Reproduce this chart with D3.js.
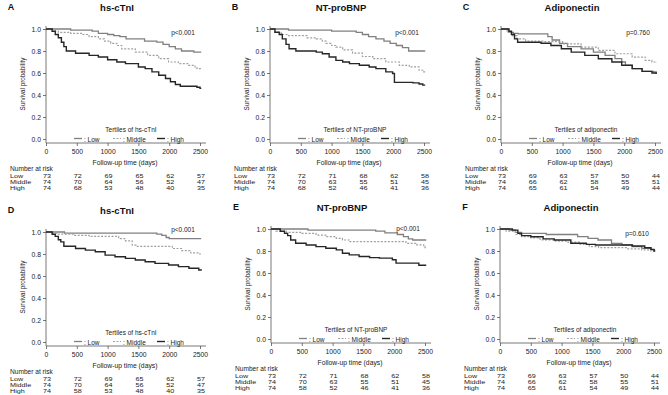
<!DOCTYPE html>
<html><head><meta charset="utf-8">
<script src="https://cdn.jsdelivr.net/npm/d3@7"></script>
<style>
html,body{margin:0;padding:0;background:#fff;}
svg{display:block;font-family:"Liberation Sans",Arial,Helvetica,sans-serif;}
</style></head>
<body>
<script>
// ---------- data (time in days, survival probability) ----------
const xTicks = [0, 500, 1000, 1500, 2000, 2500];
const yTicks = [0, 0.2, 0.4, 0.6, 0.8, 1.0];
const groups = ["Low", "Middle", "High"];

const A_low  = [[0,1],[400,0.99],[750,0.98],[850,0.96],[1000,0.95],[1100,0.94],[1200,0.93],[1300,0.91],[1600,0.89],[1800,0.88],[1900,0.86],[2000,0.84],[2100,0.82],[2200,0.80],[2400,0.79],[2520,0.79]];
const A_mid  = [[0,1],[100,0.98],[200,0.97],[400,0.96],[600,0.95],[700,0.93],[850,0.91],[950,0.89],[1050,0.87],[1150,0.85],[1230,0.82],[1450,0.79],[1650,0.76],[1830,0.73],[1990,0.70],[2150,0.685],[2300,0.67],[2420,0.645],[2480,0.64],[2520,0.64]];
const A_high = [[0,1],[100,0.98],[150,0.95],[200,0.92],[250,0.88],[290,0.84],[330,0.80],[480,0.78],[700,0.76],[850,0.745],[1000,0.72],[1150,0.70],[1290,0.685],[1500,0.655],[1610,0.64],[1720,0.61],[1830,0.58],[1940,0.55],[2020,0.52],[2100,0.495],[2180,0.48],[2450,0.47],[2500,0.46],[2520,0.46]];

const B_low  = [[0,1],[300,0.99],[1000,0.98],[1400,0.97],[1500,0.95],[1600,0.93],[1720,0.91],[1850,0.89],[1950,0.87],[2050,0.85],[2150,0.83],[2250,0.80],[2520,0.80]];
const B_mid  = [[0,1],[80,0.97],[180,0.95],[300,0.94],[600,0.92],[750,0.91],[850,0.89],[910,0.87],[1000,0.85],[1070,0.835],[1180,0.81],[1340,0.78],[1500,0.75],[1670,0.73],[1880,0.70],[2100,0.67],[2260,0.655],[2420,0.625],[2480,0.61],[2520,0.60]];
const B_high = [[0,1],[80,0.97],[150,0.95],[200,0.91],[260,0.86],[310,0.82],[420,0.80],[750,0.79],[850,0.775],[960,0.745],[1070,0.715],[1180,0.70],[1290,0.685],[1450,0.67],[1610,0.655],[1720,0.64],[1880,0.61],[1990,0.595],[2020,0.515],[2320,0.51],[2420,0.50],[2480,0.49],[2520,0.49]];

const C_low  = [[0,1],[120,0.97],[200,0.96],[280,0.955],[760,0.93],[830,0.90],[950,0.87],[1080,0.84],[1300,0.82],[1500,0.79],[1690,0.76],[1850,0.73],[1960,0.70],[2020,0.67],[2130,0.64],[2290,0.615],[2480,0.61],[2520,0.60]];
const C_mid  = [[0,1],[100,0.97],[170,0.94],[260,0.91],[400,0.89],[700,0.885],[1000,0.865],[1300,0.835],[1580,0.805],[1850,0.775],[2130,0.745],[2340,0.715],[2450,0.70],[2520,0.69]];
const C_high = [[0,1],[130,0.98],[170,0.95],[220,0.91],[270,0.88],[650,0.87],[810,0.85],[980,0.82],[1140,0.79],[1360,0.76],[1580,0.73],[1800,0.70],[1960,0.67],[2130,0.64],[2290,0.615],[2450,0.60],[2520,0.59]];

const D_low  = [[0,1],[300,0.99],[1800,0.98],[1880,0.97],[1950,0.95],[2000,0.94],[2520,0.94]];
const D_mid  = [[0,1],[100,0.99],[200,0.98],[450,0.97],[700,0.96],[1180,0.94],[1290,0.92],[1400,0.88],[1460,0.87],[2050,0.85],[2200,0.83],[2350,0.81],[2480,0.80],[2520,0.80]];
const D_high = [[0,1],[100,0.98],[150,0.96],[200,0.93],[240,0.91],[290,0.87],[480,0.85],[640,0.835],[800,0.82],[960,0.79],[1120,0.775],[1290,0.76],[1450,0.745],[1610,0.73],[1770,0.715],[1990,0.70],[2150,0.685],[2320,0.67],[2480,0.655],[2520,0.65]];

const E_low  = [[0,1],[600,0.99],[1700,0.98],[1850,0.965],[2050,0.95],[2150,0.93],[2230,0.91],[2300,0.90],[2520,0.90]];
const E_mid  = [[0,1],[80,0.98],[250,0.97],[500,0.96],[730,0.945],[890,0.93],[1060,0.915],[1160,0.90],[1270,0.885],[2190,0.87],[2350,0.855],[2480,0.84],[2500,0.83],[2520,0.83]];
const E_high = [[0,1],[150,0.98],[220,0.96],[270,0.94],[320,0.90],[400,0.87],[570,0.855],[730,0.84],[890,0.825],[1060,0.81],[1160,0.78],[1270,0.765],[1430,0.75],[1600,0.74],[1760,0.735],[1970,0.72],[2030,0.69],[2400,0.67],[2520,0.67]];

const F_low  = [[0,1],[150,0.99],[250,0.97],[350,0.96],[750,0.95],[1260,0.93],[1430,0.915],[1590,0.90],[1810,0.87],[1980,0.855],[2140,0.84],[2300,0.825],[2450,0.81],[2520,0.81]];
const F_mid  = [[0,1],[100,0.98],[250,0.95],[350,0.93],[500,0.92],[650,0.90],[900,0.89],[1100,0.88],[1300,0.86],[1450,0.84],[1600,0.83],[2050,0.82],[2300,0.81],[2450,0.80],[2520,0.80]];
const F_high = [[0,1],[200,0.99],[290,0.96],[350,0.94],[500,0.93],[700,0.91],[880,0.90],[1150,0.87],[1400,0.86],[1550,0.855],[2150,0.845],[2350,0.83],[2450,0.815],[2500,0.80],[2520,0.80]];

// numbers at risk (rows: Low, Middle, High)
const riskA = [[73,72,69,65,62,57],[74,70,64,56,52,47],[74,68,53,48,40,35]];
const riskB = [[73,72,71,68,62,58],[74,70,63,55,51,45],[74,68,52,46,41,36]];
const riskC = [[73,69,63,57,50,44],[74,66,62,58,55,51],[74,65,61,54,49,44]];
const riskD = [[73,72,69,65,62,57],[74,70,64,56,52,47],[74,58,53,48,40,35]];
const riskE = [[73,72,71,68,62,58],[74,70,63,55,51,45],[74,58,52,46,41,36]];
const riskF = [[73,69,63,57,50,44],[74,66,62,58,55,51],[74,65,61,54,49,44]];

const panels = [
  {id:"A", title:"hs-cTnI",     legend:"Tertiles of hs-cTnI",     p:"p<0.001", dx:0,   dy:0,   py:32, curves:[A_low,A_mid,A_high], risk:riskA},
  {id:"B", title:"NT-proBNP",   legend:"Tertiles of NT-proBNP",   p:"p<0.001", dx:224, dy:0,   py:32, curves:[B_low,B_mid,B_high], risk:riskB},
  {id:"C", title:"Adiponectin", legend:"Tertiles of adiponectin", p:"p=0.760", dx:455, dy:0,   py:32, curves:[C_low,C_mid,C_high], risk:riskC},
  {id:"D", title:"hs-cTnI",     legend:"Tertiles of hs-cTnI",     p:"p<0.001", dx:0,   dy:203, py:26, curves:[D_low,D_mid,D_high], risk:riskD},
  {id:"E", title:"NT-proBNP",   legend:"Tertiles of NT-proBNP",   p:"p<0.001", dx:225, dy:200, py:28, curves:[E_low,E_mid,E_high], risk:riskE},
  {id:"F", title:"Adiponectin", legend:"Tertiles of adiponectin", p:"p=0.610", dx:454, dy:200, py:33, curves:[F_low,F_mid,F_high], risk:riskF}
];

// ---------- styles ----------
const lineStyle = [
  {stroke:"#808080", width:1.3, dash:null},
  {stroke:"#a0a0a0", width:1.2, dash:"2,1.5"},
  {stroke:"#262626", width:1.4, dash:null}
];
const axisColor = "#555";
const textColor = "#222";

const W = 668, H = 395;
const svg = d3.select("body").append("svg").attr("width", W).attr("height", H);

const X0 = 46;      // y-axis position
const x = d3.scaleLinear().domain([0, 2500]).range([X0, 200]);
const y = d3.scaleLinear().domain([0, 1]).range([139, 29]);
const axisY = 143;  // x-axis baseline

const line = d3.line().x(d => x(d[0])).y(d => y(d[1])).curve(d3.curveStepAfter);

panels.forEach(P => {
  const g = svg.append("g").attr("transform", `translate(${P.dx},${P.dy})`);

  // letter + title
  g.append("text").attr("x", X0 - 35).attr("y", 7).attr("dominant-baseline","central")
    .attr("text-anchor","middle").attr("font-size", 9).attr("font-weight","bold").attr("fill","#111").text(P.id);
  g.append("text").attr("x", X0 + 71).attr("y", 7).attr("dominant-baseline","central")
    .attr("text-anchor","middle").attr("font-size", 9.5).attr("font-weight","bold").attr("fill","#111").text(P.title);

  // y axis
  const ya = g.append("g").attr("transform", `translate(${X0},0)`)
    .call(d3.axisLeft(y).tickValues(yTicks).tickFormat(d3.format(".1f")).tickSize(3).tickPadding(2));
  ya.select(".domain").remove();
  ya.selectAll("line").attr("stroke", axisColor).attr("stroke-width", 0.8);
  ya.selectAll("text").attr("font-size", 6.8).attr("fill", textColor).attr("font-family", null);
  g.append("line").attr("x1", X0).attr("x2", X0).attr("y1", 26).attr("y2", axisY)
    .attr("stroke", axisColor).attr("stroke-width", 0.8);

  // x axis
  const xa = g.append("g").attr("transform", `translate(0,${axisY})`)
    .call(d3.axisBottom(x).tickValues(xTicks).tickFormat(d3.format("d")).tickSize(3).tickPadding(3));
  xa.select(".domain").remove();
  xa.selectAll("line").attr("stroke", axisColor).attr("stroke-width", 0.8);
  xa.selectAll("text").attr("font-size", 6.8).attr("fill", textColor).attr("font-family", null);
  g.append("line").attr("x1", X0).attr("x2", 206).attr("y1", axisY).attr("y2", axisY)
    .attr("stroke", axisColor).attr("stroke-width", 0.8);

  // axis labels
  g.append("text").attr("transform", `translate(${X0-24},84) rotate(-90)`)
    .attr("text-anchor","middle").attr("dominant-baseline","central")
    .attr("font-size", 6.3).attr("fill", textColor).text("Survival probability");
  g.append("text").attr("x", 125).attr("y", 162).attr("text-anchor","middle").attr("dominant-baseline","central")
    .attr("font-size", 6.8).attr("fill", textColor).text("Follow-up time (days)");

  // curves
  P.curves.forEach((c, i) => {
    const s = lineStyle[i];
    g.append("path").datum(c).attr("d", line).attr("fill","none")
      .attr("stroke", s.stroke).attr("stroke-width", s.width)
      .attr("stroke-dasharray", s.dash);
  });

  // p-value
  g.append("text").attr("x", X0 + 137).attr("y", P.py).attr("text-anchor","middle").attr("dominant-baseline","central")
    .attr("font-size", 6.5).attr("fill", textColor).text(P.p);

  // legend
  g.append("text").attr("x", X0 + 85).attr("y", 129.5).attr("text-anchor","middle").attr("dominant-baseline","central")
    .attr("font-size", 6.5).attr("fill", textColor).text(P.legend);
  const legX = [X0 + 28, X0 + 67, X0 + 111];
  groups.forEach((gname, i) => {
    const s = lineStyle[i];
    g.append("line").attr("x1", legX[i]).attr("x2", legX[i] + 8).attr("y1", 138.5).attr("y2", 138.5)
      .attr("stroke", s.stroke).attr("stroke-width", s.width).attr("stroke-dasharray", s.dash);
    g.append("text").attr("x", legX[i] + 10).attr("y", 139).attr("dominant-baseline","central")
      .attr("font-size", 6.5).attr("fill", textColor).text(": " + gname);
  });

  // number at risk
  g.append("text").attr("x", X0 - 36).attr("y", 168).attr("dominant-baseline","central")
    .attr("font-size", 6.6).attr("fill", "#222").text("Number at risk");
  const rowY = [176, 181.8, 187.5];
  groups.forEach((gname, r) => {
    g.append("text").attr("transform", `translate(${X0-36},${rowY[r]}) scale(1,0.82)`)
      .attr("dominant-baseline","central").attr("font-size", 7.2).attr("fill", "#222").text(gname);
    P.risk[r].forEach((n, k) => {
      g.append("text").attr("transform", `translate(${x(xTicks[k])+1},${rowY[r]}) scale(1,0.82)`)
        .attr("text-anchor","middle").attr("dominant-baseline","central")
        .attr("font-size", 7.2).attr("fill", "#222").text(n);
    });
  });
});
</script>
</body></html>
